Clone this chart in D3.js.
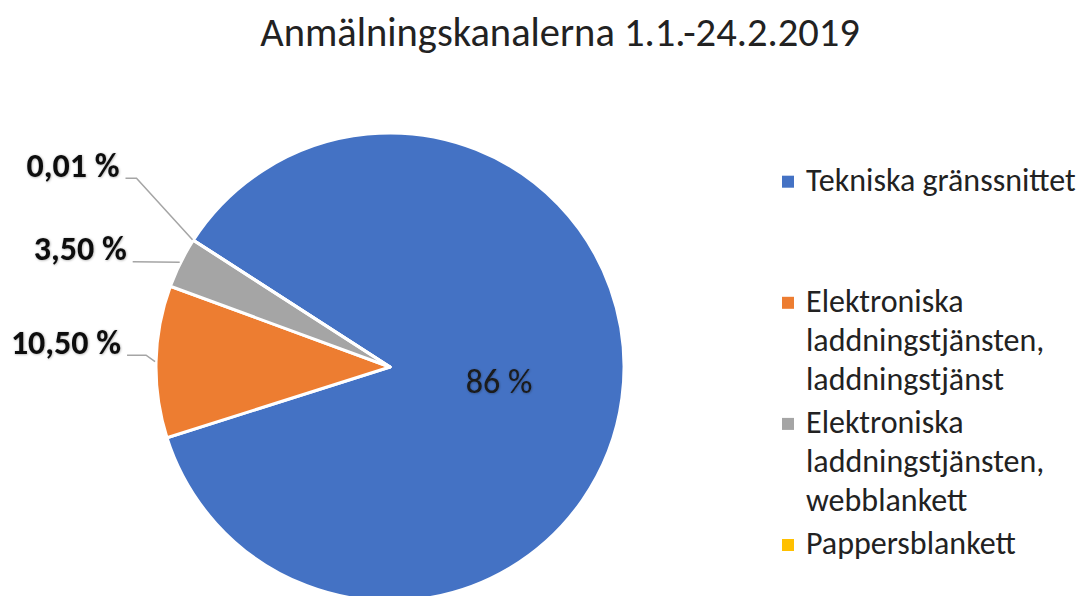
<!DOCTYPE html>
<html>
<head>
<meta charset="utf-8">
<script src="https://cdn.jsdelivr.net/npm/d3@7"></script>
<style>
  body { margin: 0; background: #ffffff; }
  svg { display: block; font-family: Carlito, Lato, "Open Sans", sans-serif; }
</style>
</head>
<body>
<svg id="chart"></svg>
<script>
const svgWidth = 1084
const svgHeight = 596

// data
const categories = [
  "Tekniska gränssnittet",
  "Elektroniska laddningstjänsten, laddningstjänst",
  "Elektroniska laddningstjänsten, webblankett",
  "Pappersblankett"
]
const legendLines = [
  ["Tekniska gränssnittet"],
  ["Elektroniska", "laddningstjänsten,", "laddningstjänst"],
  ["Elektroniska", "laddningstjänsten,", "webblankett"],
  ["Pappersblankett"]
]
const values = [86, 10.5, 3.5, 0.01]
const valueLabels = ["86 %", "10,50 %", "3,50 %", "0,01 %"]
const colors = ["#4472C4", "#ED7D31", "#A5A5A5", "#FFC000"]

const title = "Anmälningskanalerna 1.1.-24.2.2019"

// layout
const cx = 390, cy = 367, radius = 234
const startDeg = -57.17
// outside label placement relative to slice edge point: [dx of text end, dy of baseline, elbow length]
const labelNudge = { 1: [-34, -8, 19], 2: [-53, -2, 0], 3: [-73, -63, 11] }

let svg = d3.select("#chart")
  .attr("width", svgWidth)
  .attr("height", svgHeight)

let defs = svg.append("defs")
let shadow = defs.append("filter").attr("id", "shadow")
  .attr("x", "-20%").attr("y", "-20%").attr("width", "140%").attr("height", "140%")
shadow.append("feDropShadow")
  .attr("dx", 0.5).attr("dy", 0.5)
  .attr("stdDeviation", 1.2)
  .attr("flood-color", "#000").attr("flood-opacity", 0.35)

svg.append("text")
  .attr("x", 560)
  .attr("y", 46)
  .attr("text-anchor", "middle")
  .style("font-size", "40.5px")
  .style("fill", "#222")
  .text(title)

const color = d3.scaleOrdinal().domain(categories).range(colors)

const pie = d3.pie()
  .sort(null)
  .value(d => d)
  .startAngle(startDeg * Math.PI / 180)
  .endAngle(startDeg * Math.PI / 180 + 2 * Math.PI)

const arcs = pie(values)

const arc = d3.arc().innerRadius(0).outerRadius(radius)
const labelArc = d3.arc().innerRadius(110).outerRadius(110)
const edgeArc = d3.arc().innerRadius(radius + 1).outerRadius(radius + 1)

let pieG = svg.append("g")
  .attr("transform", "translate(" + cx + "," + cy + ")")

pieG.selectAll("path")
  .data(arcs)
  .join("path")
  .attr("d", arc)
  .attr("fill", (d, i) => color(categories[i]))
  .attr("stroke", "#ffffff")
  .attr("stroke-width", 3)
  .attr("stroke-linejoin", "round")

// inside label for the big slice
pieG.append("text")
  .attr("transform", "translate(" + labelArc.centroid(arcs[0]) + ")")
  .attr("text-anchor", "middle")
  .attr("dy", "0.35em")
  .style("font-size", "34px")
  .style("fill", "#1a1a1a")
  .attr("filter", "url(#shadow)")
  .text(valueLabels[0])

// outside labels with leader lines
arcs.forEach((d, i) => {
  if (i === 0) return
  let edge = edgeArc.centroid(d)
  let n = labelNudge[i]
  let tx = edge[0] + n[0]
  let ty = edge[1] + n[1]
  let x0 = tx + 6
  let x1 = x0 + n[2]
  pieG.append("polyline")
    .attr("points", [[x0, ty + 1.5], [x1, ty + 1.5], edge].map(p => p.join(",")).join(" "))
    .attr("fill", "none")
    .attr("stroke", "#A5A5A5")
    .attr("stroke-width", 1.5)

  pieG.append("text")
    .attr("x", tx)
    .attr("y", ty)
    .attr("text-anchor", "end")
    .style("font-size", "34px")
    .style("font-weight", "bold")
    .style("fill", "#111")
    .attr("filter", "url(#shadow)")
    .text(valueLabels[i])
})

// legend
const legendY = d3.scalePoint().domain(categories).range([190.7, 554])
let legend = svg.append("g")

categories.forEach((c, i) => {
  let row = legend.append("g")
    .attr("transform", "translate(0," + legendY(c) + ")")

  row.append("rect")
    .attr("x", 782)
    .attr("y", -15)
    .attr("width", 12)
    .attr("height", 12)
    .attr("fill", color(c))

  let t = row.append("text")
    .attr("x", 806)
    .attr("y", 0)
    .style("font-size", "32px")
    .style("fill", "#222")

  legendLines[i].forEach((line, j) => {
    t.append("tspan")
      .attr("x", 806)
      .attr("dy", j === 0 ? 0 : 39)
      .text(line)
  })
})
</script>
</body>
</html>
